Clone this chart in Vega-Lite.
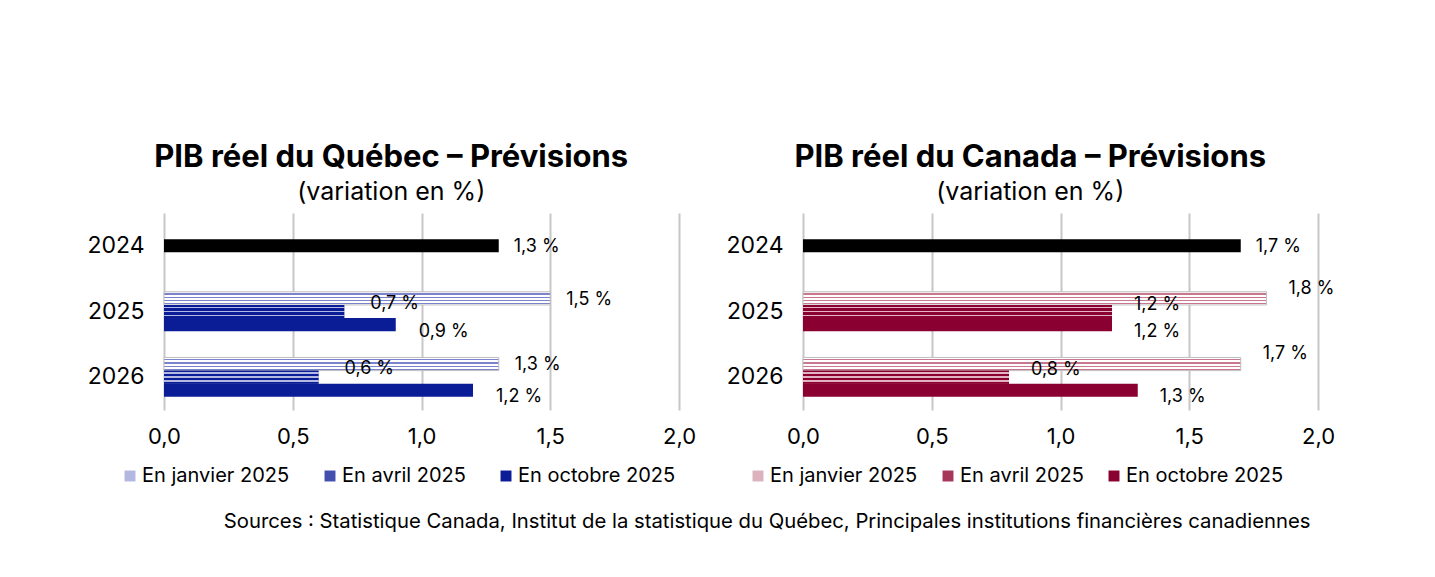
{
  "$schema": "https://vega.github.io/schema/vega-lite/v6.json",
  "padding": {"left": 86, "top": 142, "right": 0, "bottom": 0},
  "config": {
    "font": "Inter",
    "view": {"stroke": null},
    "axis": {"labelColor": "#000000", "title": null},
    "text": {"color": "#000000"}
  },
  "datasets": {
    "pib": [
      {"region": "Québec", "annee": "2024", "serie": "Réel", "valeur": 1.3},
      {"region": "Québec", "annee": "2025", "serie": "En janvier 2025", "valeur": 1.5},
      {"region": "Québec", "annee": "2025", "serie": "En avril 2025", "valeur": 0.7},
      {"region": "Québec", "annee": "2025", "serie": "En octobre 2025", "valeur": 0.9},
      {"region": "Québec", "annee": "2026", "serie": "En janvier 2025", "valeur": 1.3},
      {"region": "Québec", "annee": "2026", "serie": "En avril 2025", "valeur": 0.6},
      {"region": "Québec", "annee": "2026", "serie": "En octobre 2025", "valeur": 1.2},
      {"region": "Canada", "annee": "2024", "serie": "Réel", "valeur": 1.7},
      {"region": "Canada", "annee": "2025", "serie": "En janvier 2025", "valeur": 1.8},
      {"region": "Canada", "annee": "2025", "serie": "En avril 2025", "valeur": 1.2},
      {"region": "Canada", "annee": "2025", "serie": "En octobre 2025", "valeur": 1.2},
      {"region": "Canada", "annee": "2026", "serie": "En janvier 2025", "valeur": 1.7},
      {"region": "Canada", "annee": "2026", "serie": "En avril 2025", "valeur": 0.8},
      {"region": "Canada", "annee": "2026", "serie": "En octobre 2025", "valeur": 1.3}
    ]
  },
  "title": {
    "text": "Sources : Statistique Canada, Institut de la statistique du Québec, Principales institutions financières canadiennes",
    "orient": "bottom",
    "anchor": "end",
    "frame": "bounds",
    "fontSize": 20.3,
    "fontWeight": "normal",
    "color": "#000000",
    "offset": 26,
    "dx": -24
  },
  "spacing": 29,
  "resolve": {"scale": {"color": "independent"}, "legend": {"color": "independent"}},
  "hconcat": [
    {
      "width": 515,
      "height": 197,
      "data": {"name": "pib"},
      "transform": [{"filter": "datum.region === 'Québec'"}],
      "title": {
        "text": "PIB réel du Québec – Prévisions",
        "subtitle": "(variation en %)",
        "fontSize": 31,
        "fontWeight": "bold",
        "color": "#000000",
        "subtitleFontSize": 25,
        "subtitleColor": "#000000",
        "subtitlePadding": 6,
        "anchor": "middle",
        "frame": "bounds",
        "offset": 7
      },
      "encoding": {
        "x": {
          "field": "valeur", "type": "quantitative",
          "scale": {"domain": [0, 2], "nice": false},
          "axis": {"values": [0, 0.5, 1, 1.5, 2], "labelExpr": "replace(format(datum.value, '.1f'), '.', ',')", "labelFontSize": 22, "labelPadding": 16, "labelFlush": false, "domain": false, "ticks": false, "grid": true, "gridColor": "#c6c6c6", "gridWidth": 2}
        },
        "y": {
          "field": "annee", "type": "nominal",
          "scale": {"domain": ["2024", "2025", "2026"], "paddingInner": 0.4, "paddingOuter": 0.2},
          "axis": {"labelFontSize": 23, "labelPadding": 20, "domain": false, "ticks": false, "grid": false}
        },
        "yOffset": {"field": "serie", "type": "nominal", "scale": {"domain": ["En janvier 2025", "En avril 2025", "En octobre 2025"], "paddingInner": 0, "paddingOuter": 0}}
      },
      "layer": [
        {
          "transform": [{"filter": "datum.serie === 'Réel'"}],
          "mark": {"type": "bar", "height": 13, "color": "#000000"},
          "encoding": {"yOffset": {"value": 19.7}}
        },
        {
          "transform": [{"filter": "datum.serie !== 'Réel'"}],
          "mark": {"type": "bar"},
          "encoding": {
            "color": {
              "field": "serie", "type": "nominal",
              "scale": {
                "domain": ["En janvier 2025", "En avril 2025", "En octobre 2025"],
                "range": ["#b3b8e2", "#4450ad", "#0b1d96"]
              },
              "legend": {"title": null, "orient": "none", "direction": "horizontal", "legendX": -44, "legendY": 253, "labelFontSize": 20, "labelColor": "#000000", "symbolType": "square", "symbolSize": 120, "symbolStrokeWidth": 0, "columnPadding": 30, "labelOffset": 2}
            }
          }
        },
        {
          "transform": [{"filter": "datum.serie === 'En janvier 2025'"}],
          "mark": {"type": "bar", "stroke": "#bfbfbf", "strokeWidth": 1, "fill": {"gradient": "linear", "x1": 0, "y1": 0, "x2": 0, "y2": 1, "stops": [
            {"offset": 0, "color": "#ffffff"}, {"offset": 0.12, "color": "#ffffff"},
            {"offset": 0.12, "color": "#7a83cc"}, {"offset": 0.22, "color": "#7a83cc"},
            {"offset": 0.22, "color": "#ffffff"}, {"offset": 0.38, "color": "#ffffff"},
            {"offset": 0.38, "color": "#7a83cc"}, {"offset": 0.48, "color": "#7a83cc"},
            {"offset": 0.48, "color": "#ffffff"}, {"offset": 0.62, "color": "#ffffff"},
            {"offset": 0.62, "color": "#7a83cc"}, {"offset": 0.72, "color": "#7a83cc"},
            {"offset": 0.72, "color": "#ffffff"}, {"offset": 0.86, "color": "#ffffff"},
            {"offset": 0.86, "color": "#7a83cc"}, {"offset": 0.95, "color": "#7a83cc"},
            {"offset": 0.95, "color": "#ffffff"}, {"offset": 1, "color": "#ffffff"}
          ]}}
        },
        {
          "transform": [{"filter": "datum.serie === 'En avril 2025'"}],
          "mark": {"type": "bar", "fill": {"gradient": "linear", "x1": 0, "y1": 0, "x2": 0, "y2": 1, "stops": [
            {"offset": 0, "color": "#0b1d96"}, {"offset": 0.14, "color": "#0b1d96"},
            {"offset": 0.14, "color": "#b4b9e4"}, {"offset": 0.26, "color": "#b4b9e4"},
            {"offset": 0.26, "color": "#0b1d96"}, {"offset": 0.44, "color": "#0b1d96"},
            {"offset": 0.44, "color": "#b4b9e4"}, {"offset": 0.56, "color": "#b4b9e4"},
            {"offset": 0.56, "color": "#0b1d96"}, {"offset": 0.74, "color": "#0b1d96"},
            {"offset": 0.74, "color": "#b4b9e4"}, {"offset": 0.86, "color": "#b4b9e4"},
            {"offset": 0.86, "color": "#0b1d96"}, {"offset": 1, "color": "#0b1d96"}
          ]}}
        },
        {
          "transform": [{"filter": "datum.serie === 'Réel'"}],
          "mark": {"type": "text", "align": "left", "baseline": "middle", "dx": 15, "dy": 1, "fontSize": 18, "text": {"expr": "replace(format(datum.valeur, '.1f'), '.', ',') + ' %'"}},
          "encoding": {"yOffset": {"value": 19.7}}
        },
        {
          "transform": [{"filter": "datum.serie === 'En janvier 2025'"}],
          "mark": {"type": "text", "align": "left", "baseline": "middle", "dx": 16, "dy": -12, "fontSize": 18, "text": {"expr": "replace(format(datum.valeur, '.1f'), '.', ',') + ' %'"}},
          "encoding": {"yOffset": {"value": 19.7}}
        },
        {
          "transform": [{"filter": "datum.serie === 'En avril 2025'"}],
          "mark": {"type": "text", "align": "left", "baseline": "middle", "dx": 26, "dy": -8, "fontSize": 18, "text": {"expr": "replace(format(datum.valeur, '.1f'), '.', ',') + ' %'"}},
          "encoding": {"yOffset": {"value": 19.7}}
        },
        {
          "transform": [{"filter": "datum.serie === 'En octobre 2025'"}],
          "mark": {"type": "text", "align": "left", "baseline": "middle", "dx": 23, "dy": 20, "fontSize": 18, "text": {"expr": "replace(format(datum.valeur, '.1f'), '.', ',') + ' %'"}},
          "encoding": {"yOffset": {"value": 19.7}}
        }
      ]
    },
    {
      "width": 515,
      "height": 197,
      "data": {"name": "pib"},
      "transform": [{"filter": "datum.region === 'Canada'"}],
      "title": {
        "text": "PIB réel du Canada – Prévisions",
        "subtitle": "(variation en %)",
        "fontSize": 31,
        "fontWeight": "bold",
        "color": "#000000",
        "subtitleFontSize": 25,
        "subtitleColor": "#000000",
        "subtitlePadding": 6,
        "anchor": "middle",
        "frame": "bounds",
        "offset": 7
      },
      "encoding": {
        "x": {
          "field": "valeur", "type": "quantitative",
          "scale": {"domain": [0, 2], "nice": false},
          "axis": {"values": [0, 0.5, 1, 1.5, 2], "labelExpr": "replace(format(datum.value, '.1f'), '.', ',')", "labelFontSize": 22, "labelPadding": 16, "labelFlush": false, "domain": false, "ticks": false, "grid": true, "gridColor": "#c6c6c6", "gridWidth": 2}
        },
        "y": {
          "field": "annee", "type": "nominal",
          "scale": {"domain": ["2024", "2025", "2026"], "paddingInner": 0.4, "paddingOuter": 0.2},
          "axis": {"labelFontSize": 23, "labelPadding": 20, "domain": false, "ticks": false, "grid": false}
        },
        "yOffset": {"field": "serie", "type": "nominal", "scale": {"domain": ["En janvier 2025", "En avril 2025", "En octobre 2025"], "paddingInner": 0, "paddingOuter": 0}}
      },
      "layer": [
        {
          "transform": [{"filter": "datum.serie === 'Réel'"}],
          "mark": {"type": "bar", "height": 13, "color": "#000000"},
          "encoding": {"yOffset": {"value": 19.7}}
        },
        {
          "transform": [{"filter": "datum.serie !== 'Réel'"}],
          "mark": {"type": "bar"},
          "encoding": {
            "color": {
              "field": "serie", "type": "nominal",
              "scale": {
                "domain": ["En janvier 2025", "En avril 2025", "En octobre 2025"],
                "range": ["#dcb2bf", "#a6375a", "#8a0030"]
              },
              "legend": {"title": null, "orient": "none", "direction": "horizontal", "legendX": -55, "legendY": 253, "labelFontSize": 20, "labelColor": "#000000", "symbolType": "square", "symbolSize": 120, "symbolStrokeWidth": 0, "columnPadding": 20, "labelOffset": 2}
            }
          }
        },
        {
          "transform": [{"filter": "datum.serie === 'En janvier 2025'"}],
          "mark": {"type": "bar", "stroke": "#bfbfbf", "strokeWidth": 1, "fill": {"gradient": "linear", "x1": 0, "y1": 0, "x2": 0, "y2": 1, "stops": [
            {"offset": 0, "color": "#ffffff"}, {"offset": 0.12, "color": "#ffffff"},
            {"offset": 0.12, "color": "#c8778f"}, {"offset": 0.22, "color": "#c8778f"},
            {"offset": 0.22, "color": "#ffffff"}, {"offset": 0.38, "color": "#ffffff"},
            {"offset": 0.38, "color": "#c8778f"}, {"offset": 0.48, "color": "#c8778f"},
            {"offset": 0.48, "color": "#ffffff"}, {"offset": 0.62, "color": "#ffffff"},
            {"offset": 0.62, "color": "#c8778f"}, {"offset": 0.72, "color": "#c8778f"},
            {"offset": 0.72, "color": "#ffffff"}, {"offset": 0.86, "color": "#ffffff"},
            {"offset": 0.86, "color": "#c8778f"}, {"offset": 0.95, "color": "#c8778f"},
            {"offset": 0.95, "color": "#ffffff"}, {"offset": 1, "color": "#ffffff"}
          ]}}
        },
        {
          "transform": [{"filter": "datum.serie === 'En avril 2025'"}],
          "mark": {"type": "bar", "fill": {"gradient": "linear", "x1": 0, "y1": 0, "x2": 0, "y2": 1, "stops": [
            {"offset": 0, "color": "#8a0030"}, {"offset": 0.14, "color": "#8a0030"},
            {"offset": 0.14, "color": "#e2b3c0"}, {"offset": 0.26, "color": "#e2b3c0"},
            {"offset": 0.26, "color": "#8a0030"}, {"offset": 0.44, "color": "#8a0030"},
            {"offset": 0.44, "color": "#e2b3c0"}, {"offset": 0.56, "color": "#e2b3c0"},
            {"offset": 0.56, "color": "#8a0030"}, {"offset": 0.74, "color": "#8a0030"},
            {"offset": 0.74, "color": "#e2b3c0"}, {"offset": 0.86, "color": "#e2b3c0"},
            {"offset": 0.86, "color": "#8a0030"}, {"offset": 1, "color": "#8a0030"}
          ]}}
        },
        {
          "transform": [{"filter": "datum.serie === 'Réel'"}],
          "mark": {"type": "text", "align": "left", "baseline": "middle", "dx": 15, "dy": 1, "fontSize": 18, "text": {"expr": "replace(format(datum.valeur, '.1f'), '.', ',') + ' %'"}},
          "encoding": {"yOffset": {"value": 19.7}}
        },
        {
          "transform": [{"filter": "datum.serie === 'En janvier 2025'"}],
          "mark": {"type": "text", "align": "left", "baseline": "middle", "dx": 22, "dy": -23, "fontSize": 18, "text": {"expr": "replace(format(datum.valeur, '.1f'), '.', ',') + ' %'"}},
          "encoding": {"yOffset": {"value": 19.7}}
        },
        {
          "transform": [{"filter": "datum.serie === 'En avril 2025'"}],
          "mark": {"type": "text", "align": "left", "baseline": "middle", "dx": 22, "dy": -7, "fontSize": 18, "text": {"expr": "replace(format(datum.valeur, '.1f'), '.', ',') + ' %'"}},
          "encoding": {"yOffset": {"value": 19.7}}
        },
        {
          "transform": [{"filter": "datum.serie === 'En octobre 2025'"}],
          "mark": {"type": "text", "align": "left", "baseline": "middle", "dx": 22, "dy": 20, "fontSize": 18, "text": {"expr": "replace(format(datum.valeur, '.1f'), '.', ',') + ' %'"}},
          "encoding": {"yOffset": {"value": 19.7}}
        }
      ]
    }
  ]
}
